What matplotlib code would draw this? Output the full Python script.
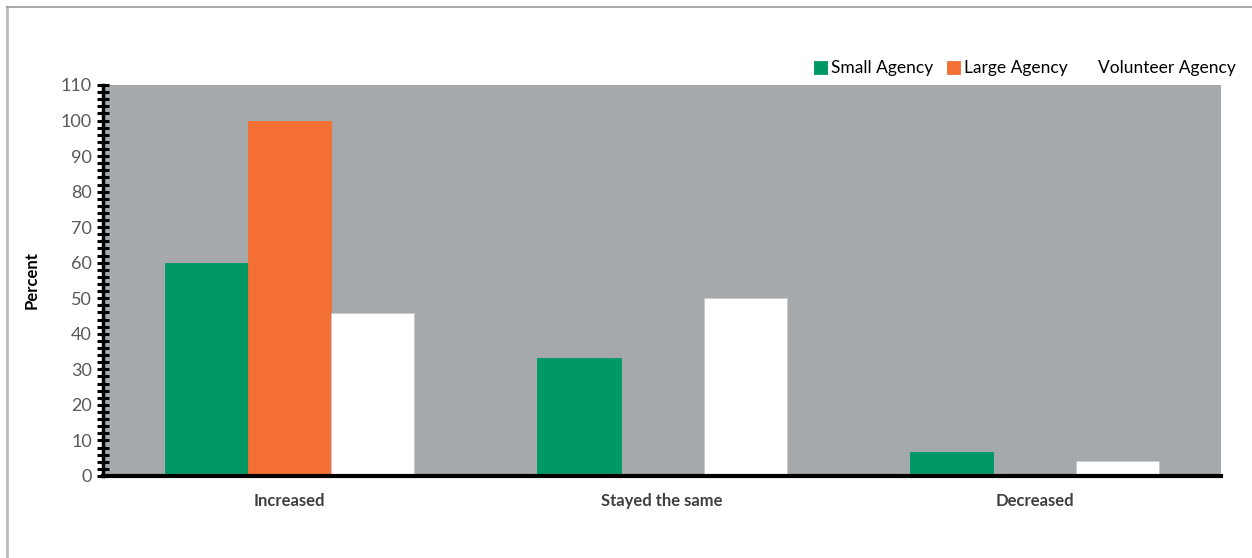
import numpy as np
import matplotlib.pyplot as plt
from matplotlib.lines import Line2D
from matplotlib.ticker import MultipleLocator

# survey results: change reported by each agency type (%)
categories = ["Increased", "Stayed the same", "Decreased"]
small_agency = [60, 33.3, 6.7]
large_agency = [100, 0, 0]
volunteer_agency = [45.8, 50, 4.2]

series = [
    ("Small Agency", small_agency, "#009966"),
    ("Large Agency", large_agency, "#F36F33"),
    ("Volunteer Agency", volunteer_agency, "#FFFFFF"),
]

plt.rcParams["font.family"] = ["Lato", "DejaVu Sans"]

fig = plt.figure(figsize=(12.52, 5.58), dpi=100)
ax = fig.add_axes([0.0823, 0.147, 0.893, 0.7007])
ax.set_facecolor("#A5A9AC")

x = np.arange(len(categories))
w = 0.223
for i, (name, vals, col) in enumerate(series):
    ax.bar(x + (i - 1) * w, vals, width=w, color=col, label=name,
           edgecolor="#C8CACC" if col == "#FFFFFF" else col, linewidth=0.6,
           zorder=2)

ax.set_xlim(-0.5, 2.5)
ax.set_ylim(0, 110)
ax.yaxis.set_major_locator(MultipleLocator(10))
ax.yaxis.set_minor_locator(MultipleLocator(2))
ax.tick_params(axis="y", which="both", direction="inout", length=8,
               width=2.2, color="black", labelsize=13, labelcolor="#595959",
               pad=4)
ax.tick_params(axis="x", length=0, pad=12)
ax.set_xticks(x)
ax.set_xticklabels(categories, fontsize=12, fontweight="bold",
                   color="#404040")

for side in ("top", "right"):
    ax.spines[side].set_visible(False)
ax.spines["left"].set_linewidth(2.5)
ax.spines["bottom"].set_linewidth(3)
ax.spines["bottom"].set_zorder(3)

ax.set_ylabel("Percent", fontsize=12, fontweight="bold", color="black",
              labelpad=15)

leg = ax.legend(ncol=3, loc="lower right", bbox_to_anchor=(1.021, 1.0),
                frameon=False, fontsize=12.5, handlelength=0.75,
                handleheight=0.75, handletextpad=0.25, columnspacing=0.75,
                borderaxespad=0.1)
# white key for volunteers has no outline, so it blends into the page
leg.legend_handles[2].set_edgecolor("none")

# thin grey frame along the top and left edges
fig.add_artist(Line2D([0.0055, 0.0055], [0, 0.9875], color="#BBBBBB",
                      lw=2, transform=fig.transFigure))
fig.add_artist(Line2D([0.0055, 1.0], [0.9875, 0.9875], color="#999999",
                      lw=1.2, transform=fig.transFigure))

fig.savefig("out.png", dpi=100)
